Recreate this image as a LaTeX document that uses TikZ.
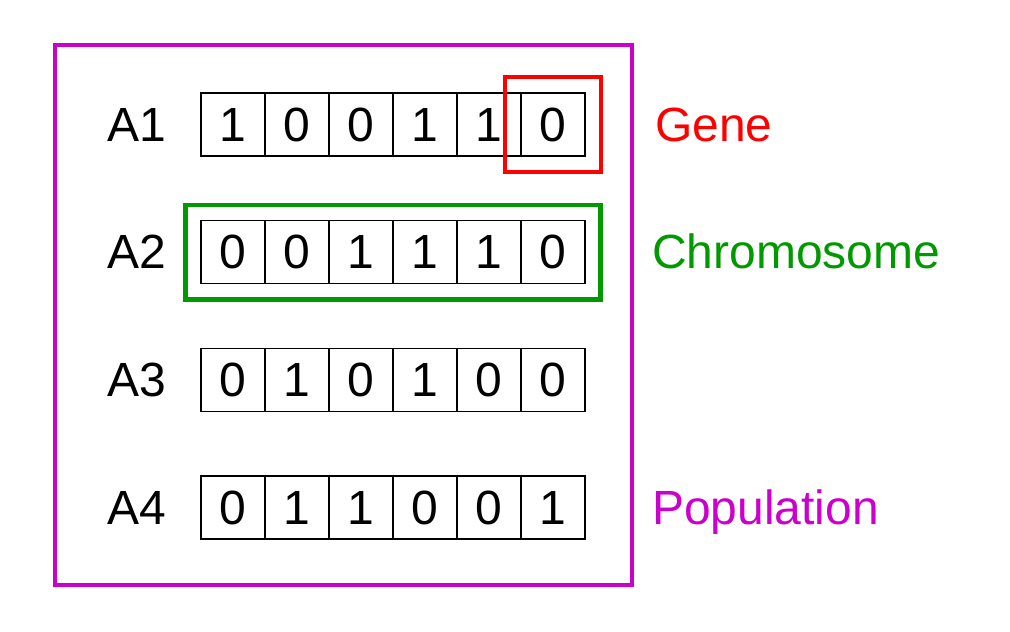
\documentclass[tikz,border=0pt]{standalone}
\usepackage{fontspec}
\setmainfont{Liberation Sans}
\usetikzlibrary{
    fit
}
\definecolor{genered}{HTML}{FF0000}
\definecolor{chromgreen}{HTML}{009900}
\definecolor{poppurple}{HTML}{CC00CC}
\tikzset{
  every node/.style={
    font=\fontsize{48}{58}\selectfont,
    inner sep=0pt
  },
  cell/.style={
    draw=black,
    line width=1.2pt,
    minimum width=64pt,
    minimum height=63pt
  },
  genebox/.style={
    draw=genered,
    line width=4.5pt,
    inner sep=15.5pt
  },
  chrombox/.style={
    draw=chromgreen,
    line width=4.5pt,
    inner sep=15pt
  },
  popbox/.style={
    draw=poppurple,
    line width=4.5pt
  }
}

\begin{document}
\begin{tikzpicture}[x=1pt,y=1pt]
    \useasboundingbox (0,0) rectangle (1010,632);

    %-------------------------
    %individuals A1..A4
    %-------------------------
    \foreach \r/\bits [evaluate=\r as \y using 507.5-127.7*(\r-1)]
        in {1/{1,0,0,1,1,0}, 2/{0,0,1,1,1,0}, 3/{0,1,0,1,0,0}, 4/{0,1,1,0,0,1}} {
        \node (a\r) at (137,\y) {A\r};
        \foreach \b [count=\i] in \bits {
            \node[cell] (c\r\i) at (233+64*\i-64,\y) {\b};
        }
    }

    %-------------------------
    %gene, chromosome, population
    %-------------------------
    \node[genebox, fit=(c16)] (gene) {};
    \node[chrombox, fit=(c21) (c26)] (chrom) {};
    \draw[popbox] (55,47) rectangle (632,587);

    \node[anchor=base west, text=genered] (genelbl) at (655,490) {Gene};
    \node[anchor=base west, text=chromgreen] (chromlbl) at (652,363) {Chromosome};
    \node[anchor=base west, text=poppurple] (poplbl) at (652,107) {Population};

\end{tikzpicture}
\end{document}
